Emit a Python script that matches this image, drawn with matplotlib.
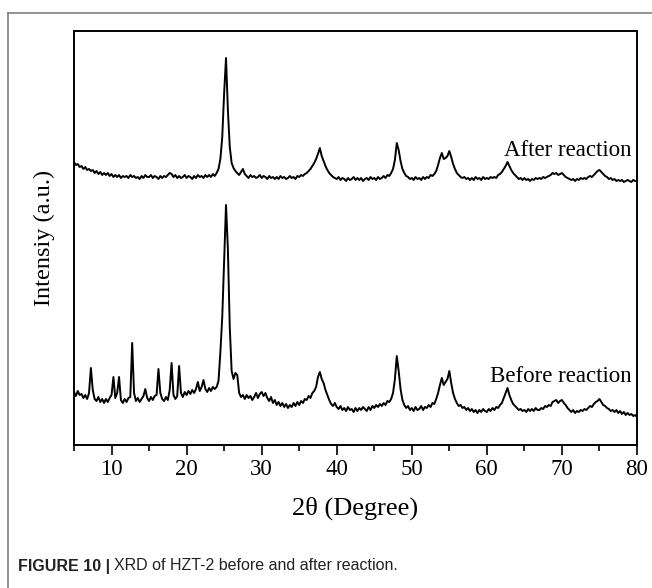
import numpy as np
import matplotlib
matplotlib.use("Agg")
import matplotlib.pyplot as plt
from matplotlib.lines import Line2D
from matplotlib.ticker import MultipleLocator

# 2-theta grid (degrees), 0.25 deg steps from 5 to 80
two_theta = np.arange(5.0, 80.0001, 0.25)

before_reaction = [
    53, 49, 54, 50,  51, 47, 50, 46,  52, 77, 55, 46,  44, 48, 43, 46,
    42, 46, 43, 47,  50, 68, 47, 52,  68, 45, 42, 46,  43, 47, 48, 102,
    52, 44, 47, 43,  46, 49, 56, 47,  44, 48, 45, 49,  50, 76, 52, 46,
    44, 48, 45, 55,  82, 50, 46, 49,  79, 52, 48, 53,  50, 54, 51, 55,
    52, 56, 63, 54,  58, 65, 56, 53,  57, 54, 58, 56,  58, 64, 93, 128,
    185, 240, 196, 118,  74, 66, 72, 70,  52, 48, 50, 46,  50, 47, 49, 45,
    48, 52, 47, 51,  53, 49, 52, 47,  44, 48, 42, 45,  40, 43, 39, 42,
    38, 41, 37, 40,  38, 42, 39, 43,  40, 44, 42, 46,  45, 49, 47, 52,
    54, 58, 68, 73,  66, 62, 55, 50,  45, 41, 39, 42,  38, 36, 39, 35,
    37, 34, 38, 35,  36, 33, 37, 34,  37, 35, 38, 36,  34, 38, 35, 39,
    37, 40, 38, 41,  39, 42, 40, 44,  43, 46, 52, 66,  89, 74, 56, 45,
    40, 37, 39, 35,  37, 34, 38, 35,  36, 39, 35, 38,  37, 40, 38, 42,
    41, 46, 52, 60,  67, 60, 63, 66,  74, 62, 52, 46,  42, 39, 40, 37,
    38, 35, 37, 34,  36, 33, 35, 32,  35, 33, 36, 34,  33, 36, 34, 37,
    35, 38, 37, 40,  42, 47, 52, 57,  50, 45, 41, 39,  37, 35, 36, 34,
    35, 33, 36, 34,  36, 34, 37, 35,  35, 37, 36, 39,  38, 40, 39, 43,
    44, 45, 42, 44,  45, 42, 40, 37,  35, 33, 35, 32,  34, 33, 35, 34,
    36, 35, 37, 39,  38, 41, 43, 44,  46, 43, 40, 39,  37, 36, 34, 35,
    33, 35, 32, 34,  31, 33, 30, 32,  30, 31, 29, 30,  28,
]

after_reaction = [
    283, 280, 281, 278,  279, 276, 278, 275,  276, 274, 275, 272,  274, 271, 273, 270,
    272, 270, 272, 269,  271, 268, 270, 268,  270, 267, 269, 268,  269, 267, 270, 268,
    269, 267, 268, 266,  269, 267, 270, 268,  268, 270, 267, 269,  268, 266, 269, 267,
    269, 268, 270, 272,  271, 268, 270, 267,  269, 267, 268, 270,  267, 269, 268, 266,
    269, 267, 270, 268,  269, 267, 270, 268,  270, 268, 271, 269,  272, 276, 286, 308,
    352, 387, 335, 298,  282, 277, 274, 272,  270, 273, 276, 271,  269, 267, 270, 268,
    269, 267, 268, 270,  267, 269, 268, 266,  269, 267, 268, 266,  268, 266, 269, 267,
    268, 266, 267, 269,  267, 268, 266, 269,  268, 270, 269, 271,  272, 274, 276, 279,
    282, 286, 291, 297,  289, 284, 279, 275,  272, 270, 268, 267,  266, 268, 265, 267,
    266, 264, 267, 265,  266, 268, 265, 267,  265, 267, 264, 266,  267, 265, 268, 266,
    267, 265, 268, 266,  267, 269, 267, 270,  269, 272, 276, 285,  302, 295, 284, 276,
    272, 269, 268, 266,  267, 265, 268, 266,  267, 265, 268, 266,  268, 267, 270, 269,
    271, 274, 280, 287,  292, 286, 287, 289,  294, 288, 281, 276,  272, 270, 268, 267,
    268, 266, 267, 265,  267, 265, 268, 266,  267, 265, 268, 266,  267, 266, 268, 267,
    268, 267, 270, 271,  273, 276, 279, 283,  279, 275, 272, 270,  268, 266, 267, 265,
    267, 265, 266, 264,  266, 265, 267, 266,  267, 266, 268, 267,  268, 269, 270, 272,
    271, 272, 270, 271,  272, 270, 268, 267,  266, 265, 266, 264,  266, 265, 267, 266,
    267, 266, 268, 269,  268, 270, 272, 274,  275, 273, 271, 269,  268, 266, 267, 265,
    266, 264, 265, 264,  265, 263, 264, 265,  264, 263, 265, 264,  264,
]

series_labels = ["After reaction", "Before reaction"]
x_ticks = [10, 20, 30, 40, 50, 60, 70, 80]
x_label = "2θ (Degree)"
y_label = "Intensiy (a.u.)"
caption_bold = "FIGURE 10 |"
caption_rest = "XRD of HZT-2 before and after reaction."

W, H = 652, 588
fig = plt.figure(figsize=(W / 100, H / 100), dpi=100)
serif = "Liberation Serif"

ax = fig.add_axes([74 / W, 1 - 445 / H, (637 - 74) / W, (445 - 31) / H])
ax.plot(two_theta, before_reaction, color="black", lw=1.4)
ax.plot(two_theta, after_reaction, color="black", lw=1.4)

ax.set_xlim(5, 80)
ax.set_ylim(0, 414)
ax.set_xticks(x_ticks)
ax.xaxis.set_minor_locator(MultipleLocator(5))
ax.tick_params(axis="x", which="major", direction="out", length=7, width=1.2,
               labelsize=16.5, pad=3)
ax.tick_params(axis="x", which="minor", direction="out", length=4, width=1.2)
ax.set_yticks([])
for lbl in ax.get_xticklabels():
    lbl.set_fontfamily(serif)
for sp in ax.spines.values():
    sp.set_linewidth(1.4)

ax.set_xlabel(x_label, fontsize=19, fontfamily=serif, labelpad=12)
ax.set_ylabel(y_label, fontsize=17.5, fontfamily=serif, labelpad=14)

ax.text(79.3, 295, series_labels[0], fontsize=16.5, fontfamily=serif,
        ha="right", va="center")
ax.text(79.3, 68, series_labels[1], fontsize=16.5, fontfamily=serif,
        ha="right", va="center")

# outer figure frame (left and top lines)
fig.add_artist(Line2D([8 / W, 8 / W], [0, 1 - 13 / H], transform=fig.transFigure,
                      color="#808080", lw=1.2))
fig.add_artist(Line2D([8 / W, 1], [1 - 13 / H, 1 - 13 / H], transform=fig.transFigure,
                      color="#808080", lw=1.2))

t1 = fig.text(18 / W, 1 - 566 / H, caption_bold, fontsize=11.5, fontweight="bold",
              fontfamily="Liberation Sans", color="#222222", va="center")
ax.annotate(caption_rest, xy=(1, 0.5), xycoords=t1, xytext=(3, 0),
            textcoords="offset points", fontsize=11.5, fontfamily="Liberation Sans",
            color="#222222", va="center", annotation_clip=False)

fig.savefig("out.png", dpi=100)
